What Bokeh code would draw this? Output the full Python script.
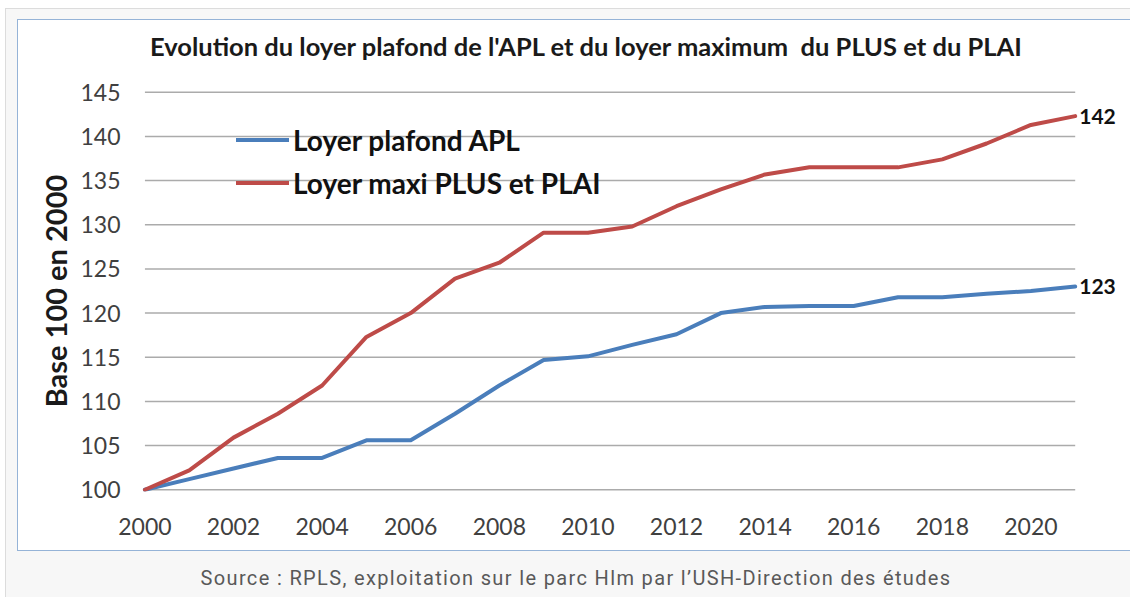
from bokeh.plotting import figure
from bokeh.models import FixedTicker, Legend, LegendItem, Div, Spacer
from bokeh.core.properties import value
from bokeh.layouts import column, row
from bokeh.embed import file_html
from bokeh.resources import INLINE

# ---- data ----
years = list(range(2000, 2022))
apl = [100.0, 101.2, 102.4, 103.6, 103.6, 105.6, 105.6, 108.6, 111.8, 114.7, 115.1,
       116.4, 117.6, 120.0, 120.7, 120.8, 120.8, 121.8, 121.8, 122.2, 122.5, 123.0]
plus = [100.0, 102.2, 105.9, 108.6, 111.8, 117.3, 120.0, 123.9, 125.7, 129.1, 129.1,
        129.8, 132.1, 134.0, 135.7, 136.5, 136.5, 136.5, 137.4, 139.2, 141.3, 142.3]
x_ticks = list(range(2000, 2021, 2))
y_ticks = list(range(100, 146, 5))
series_names = ["Loyer plafond APL", "Loyer maxi PLUS et PLAI"]
series_colors = ["#4A7EBB", "#BE4B48"]
title_text = "Evolution du loyer plafond de l'APL et du loyer maximum  du PLUS et du PLAI"
y_title = "Base 100 en 2000"
source_text = "Source : RPLS, exploitation sur le parc Hlm par l’USH-Direction des études"

FONT = "Lato"

p = figure(width=1107, height=480, x_range=(1999.9, 2022.0), y_range=(99.8, 145.2),
           output_backend="svg", toolbar_location=None,
           min_border_left=122, min_border_right=6, min_border_top=20, min_border_bottom=59,
           background_fill_color="white", border_fill_color="white",
           outline_line_color=None)

p.xgrid.visible = False
p.ygrid.visible = False
# horizontal gridlines spanning the data years only
p.segment(x0=[years[0]] * len(y_ticks), x1=[years[-1]] * len(y_ticks), y0=y_ticks, y1=y_ticks,
          line_color="#ababab", line_width=1.5, level="underlay")

p.xaxis.ticker = FixedTicker(ticks=x_ticks)
p.yaxis.ticker = FixedTicker(ticks=y_ticks)
for ax in (p.xaxis[0], p.yaxis[0]):
    ax.axis_line_color = None
    ax.major_tick_line_color = None
    ax.minor_tick_line_color = None
    ax.major_tick_out = 0
    ax.major_tick_in = 0
    ax.major_label_text_font = FONT
    ax.major_label_text_color = "#404040"
p.yaxis.major_label_text_font_size = "23px"
p.xaxis.major_label_text_font_size = "23px"
p.yaxis.major_label_standoff = 20
p.xaxis.major_label_standoff = 26
p.yaxis.axis_label = y_title
p.yaxis.axis_label_text_font = FONT
p.yaxis.axis_label_text_font_size = "29px"
p.yaxis.axis_label_text_font_style = "bold"
p.yaxis.axis_label_text_color = "#1a1a1a"
p.yaxis.axis_label_standoff = 4

renderers = []
for vals, col in zip([apl, plus], series_colors):
    r = p.line(years, vals, line_color=col, line_width=4, line_join="round", line_cap="round")
    renderers.append(r)

legend = Legend(items=[LegendItem(label=n, renderers=[r]) for n, r in zip(series_names, renderers)],
                location=(96, 287), padding=0, margin=0, spacing=0,
                glyph_width=53, glyph_height=43, label_height=43, label_standoff=4,
                label_text_font=FONT, label_text_font_size="28px", label_text_font_style="bold",
                label_text_color="#111111",
                background_fill_alpha=0, border_line_alpha=0)
p.add_layout(legend)

end_vals = [plus[-1], apl[-1]]
p.text(x=[years[-1]] * 2, y=end_vals, text=[f"{round(v)}" for v in end_vals],
       x_offset=4, text_baseline="middle", text_align="left",
       text_font=value(FONT), text_font_size=value("21px"), text_font_style="bold",
       text_color="#111111")

title_div = Div(text=title_text, width=1107, height=40,
                styles={"font-family": FONT, "font-weight": "bold", "font-size": "25.5px",
                        "line-height": "42px", "color": "#1a1a1a", "white-space": "pre",
                        "text-indent": "127px", "overflow": "visible",
                        "background-color": "white"})

box = column(title_div, p,
             styles={"outline": "1px solid #95b3d7", "background-color": "white"})

div = Div(text=source_text, width=1125, height=40,
          styles={"font-family": "Roboto, sans-serif", "letter-spacing": "1.35px",
                  "font-size": "20px", "color": "#595959", "text-align": "center",
                  "line-height": "46px", "text-indent": "7px", "overflow": "visible"})

inner = column(Spacer(width=1125, height=12),
               row(Spacer(width=13, height=530), box),
               div,
               styles={"background-color": "#f7f7f7",
                       "box-shadow": "inset 1px 1px 0 #dcdcdc"})

layout = column(Spacer(width=1130, height=8), row(Spacer(width=5, height=10), inner))

open("out.html", "w").write(file_html(layout, INLINE))
